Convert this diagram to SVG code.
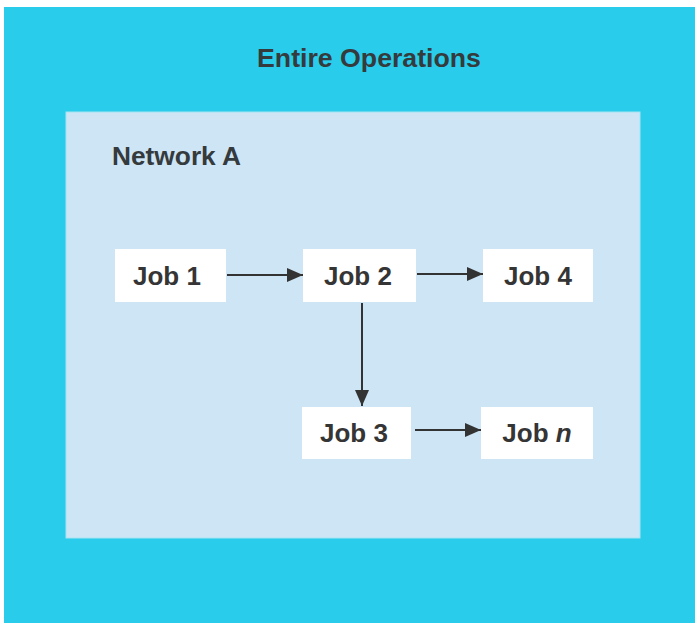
<svg xmlns="http://www.w3.org/2000/svg" width="695" height="623" viewBox="0 0 695 623">
  <defs>
    <style>
      .t { font-family: "Liberation Sans", Arial, sans-serif; font-weight: bold; fill: #353a3d; }
      .job rect { fill: #ffffff; }
      .job text { font-family: "Liberation Sans", Arial, sans-serif; font-weight: bold; font-size: 26px; fill: #353535; text-anchor: middle; }
      .conn line { stroke: #333333; stroke-width: 2; fill: none; }
    </style>
    <marker id="arr" viewBox="0 0 16 14" refX="16" refY="7" markerWidth="16" markerHeight="14" markerUnits="userSpaceOnUse" orient="auto">
      <path d="M0,0 L16,7 L0,14 Z" fill="#333333"/>
    </marker>
  </defs>
  <rect width="695" height="623" fill="#ffffff"/>
  <g id="entire-operations">
    <rect x="4" y="7" width="691" height="616" fill="#29cdeb"/>
    <text class="t" x="369" y="67" font-size="26.7" text-anchor="middle">Entire Operations</text>
  </g>
  <g id="network-a">
    <rect x="66" y="112" width="574" height="426" fill="#cde5f5" stroke="#a8e4f2" stroke-width="1"/>
    <text class="t" x="112" y="165" font-size="26.3">Network A</text>
  </g>
  <g id="job1" class="job">
    <rect x="115" y="249" width="111" height="53"/>
    <text x="167" y="285">Job 1</text>
  </g>
  <g id="job2" class="job">
    <rect x="303" y="249" width="113" height="53"/>
    <text x="358" y="285">Job 2</text>
  </g>
  <g id="job4" class="job">
    <rect x="483" y="249" width="110" height="53"/>
    <text x="538" y="285">Job 4</text>
  </g>
  <g id="job3" class="job">
    <rect x="302" y="407" width="109" height="52"/>
    <text x="354" y="442">Job 3</text>
  </g>
  <g id="jobn" class="job">
    <rect x="481" y="407" width="112" height="52"/>
    <text x="537" y="442">Job <tspan font-style="italic">n</tspan></text>
  </g>
  <g id="connectors" class="conn">
    <line x1="227" y1="275" x2="303" y2="275" marker-end="url(#arr)"/>
    <line x1="417" y1="274" x2="483" y2="274" marker-end="url(#arr)"/>
    <line x1="362" y1="303" x2="362" y2="406" marker-end="url(#arr)"/>
    <line x1="415" y1="430" x2="481" y2="430" marker-end="url(#arr)"/>
  </g>
</svg>
